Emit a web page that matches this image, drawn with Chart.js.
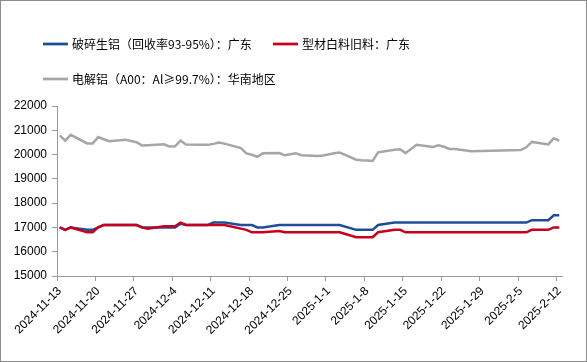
<!DOCTYPE html>
<html>
<head>
<meta charset="utf-8">
<script src="https://cdn.jsdelivr.net/npm/chart.js@4.4.1/dist/chart.umd.min.js"></script>
<style>
html, body { margin: 0; padding: 0; background: #fff; }
#wrap { width: 587px; height: 362px; position: relative; }
</style>
</head>
<body>
<div id="wrap"><canvas id="myChart"></canvas></div>
<script>
// price days (weekdays, no data over New Year / Spring Festival)
var tradeDays = [
  "2024-11-13", "2024-11-14", "2024-11-15", "2024-11-18", "2024-11-19", "2024-11-20", "2024-11-21", "2024-11-22",
  "2024-11-25", "2024-11-26", "2024-11-27", "2024-11-28", "2024-11-29",
  "2024-12-2", "2024-12-3", "2024-12-4", "2024-12-5", "2024-12-6", "2024-12-9", "2024-12-10", "2024-12-11",
  "2024-12-12", "2024-12-13", "2024-12-16", "2024-12-17", "2024-12-18", "2024-12-19", "2024-12-20",
  "2024-12-23", "2024-12-24", "2024-12-25", "2024-12-26", "2024-12-27", "2024-12-30", "2024-12-31",
  "2025-1-2", "2025-1-3", "2025-1-6", "2025-1-7", "2025-1-8", "2025-1-9", "2025-1-10",
  "2025-1-13", "2025-1-14", "2025-1-15", "2025-1-16", "2025-1-17", "2025-1-20", "2025-1-21",
  "2025-1-22", "2025-1-23", "2025-1-24", "2025-1-27",
  "2025-2-5", "2025-2-6", "2025-2-7", "2025-2-10", "2025-2-11", "2025-2-12"
];

// 破碎生铝（回收率93-95%）：广东
var scrapAl = [
  17000, 16900, 17000, 16900, 16900, 17000, 17100, 17100, 17100, 17100, 17100, 17000, 17000,
  17000, 17000, 17000, 17150, 17100, 17100, 17100, 17200, 17200, 17200, 17100, 17100, 17100, 17000, 17000,
  17100, 17100, 17100, 17100, 17100, 17100, 17100,
  17100, 17100, 16900, 16900, 16900, 16900, 17100, 17200, 17200, 17200, 17200, 17200, 17200, 17200,
  17200, 17200, 17200, 17200,
  17200, 17200, 17300, 17300, 17500, 17500
];

// 型材白料旧料：广东
var profileAl = [
  17000, 16900, 17000, 16800, 16800, 17000, 17100, 17100, 17100, 17100, 17100, 17000, 16950,
  17050, 17050, 17050, 17200, 17100, 17100, 17100, 17100, 17100, 17100, 16950, 16900, 16800, 16800, 16800,
  16850, 16800, 16800, 16800, 16800, 16800, 16800,
  16800, 16800, 16600, 16600, 16600, 16600, 16800, 16900, 16900, 16800, 16800, 16800, 16800, 16800,
  16800, 16800, 16800, 16800,
  16800, 16800, 16900, 16900, 17000, 17000
];

// 电解铝（A00：Al≥99.7%）：华南地区
var primaryAl = [
  20790, 20570, 20810, 20460, 20460, 20720, 20630, 20550, 20610, 20560, 20510, 20370, 20380,
  20420, 20330, 20340, 20570, 20410, 20400, 20400, 20440, 20500, 20450, 20270, 20050, 19990, 19910, 20050,
  20060, 19970, 20010, 20050, 19970, 19940, 19960,
  20050, 20080, 19790, 19770, 19760, 19740, 20090, 20200, 20220, 20060, 20230, 20400, 20310, 20380,
  20320, 20230, 20230, 20140,
  20190, 20300, 20520, 20420, 20670, 20570
];

var seriesNames = ["破碎生铝（回收率93-95%）：广东", "型材白料旧料：广东", "电解铝（A00：Al≥99.7%）：华南地区"];
var seriesColors = ["#1F4E99", "#C8001E", "#A6A6A6"];

var yMin = 15000, yMax = 22000, yStep = 1000;

// every calendar day on the axis, only price days carry a value
var dayLabels = [];
var d = new Date(2024, 10, 13);
var last = new Date(2025, 1, 12);
while (d <= last) {
  dayLabels.push(d.getFullYear() + "-" + (d.getMonth() + 1) + "-" + d.getDate());
  d.setDate(d.getDate() + 1);
}
function onDays(values) {
  return dayLabels.map(function(lbl) {
    var i = tradeDays.indexOf(lbl);
    return i < 0 ? null : values[i];
  });
}

var legendPlugin = {
  id: 'topLegend',
  afterDraw: function(chart) {
    var c = chart.ctx;
    var items = [[43, 44, 0], [273, 44, 1], [43, 79, 2]];
    c.save();
    c.font = '12px "Noto Sans CJK SC"';
    c.textBaseline = 'middle';
    items.forEach(function(it) {
      c.strokeStyle = seriesColors[it[2]];
      c.lineWidth = 2.75;
      c.beginPath();
      c.moveTo(it[0], it[1]);
      c.lineTo(it[0] + 25, it[1]);
      c.stroke();
      c.fillStyle = '#000';
      c.fillText(seriesNames[it[2]], it[0] + 29, it[1]);
    });
    c.strokeStyle = '#8C8C8C';
    c.lineWidth = 1;
    c.strokeRect(0.5, 0.5, 586, 361);
    c.restore();
  }
};

var ctx = document.getElementById("myChart").getContext("2d");
var mychart = new Chart(ctx, {
  type: "line",
  data: {
    labels: dayLabels,
    datasets: [{
      label: seriesNames[0],
      data: onDays(scrapAl),
      borderColor: seriesColors[0],
      order: 1
    }, {
      label: seriesNames[1],
      data: onDays(profileAl),
      borderColor: seriesColors[1],
      order: 0
    }, {
      label: seriesNames[2],
      data: onDays(primaryAl),
      borderColor: seriesColors[2],
      order: 2
    }]
  },
  options: {
    responsive: true,
    maintainAspectRatio: false,
    animation: false,
    spanGaps: true,
    elements: {
      line: { borderWidth: 2.5, tension: 0, fill: false },
      point: { radius: 0, hoverRadius: 0 }
    },
    layout: { padding: { top: 106, right: 25, bottom: 0, left: 0 } },
    plugins: {
      legend: { display: false },
      tooltip: { enabled: false }
    },
    scales: {
      x: {
        type: 'category',
        offset: true,
        grid: {
          offset: true,
          drawOnChartArea: false,
          drawTicks: true,
          tickLength: 5,
          color: function(c) { return c.index % 7 === 0 ? '#999' : 'rgba(0,0,0,0)'; }
        },
        border: { color: '#999' },
        ticks: {
          autoSkip: false,
          maxRotation: 45,
          minRotation: 45,
          color: '#000',
          font: { family: 'Liberation Sans, Arial', size: 12 },
          callback: function(v, i) { return i % 7 === 0 ? this.getLabelForValue(v) : ''; }
        },
        afterFit: function(s) { s.height = 86; }
      },
      y: {
        min: yMin,
        max: yMax,
        grid: { drawOnChartArea: false, tickLength: 5, color: '#999' },
        border: { color: '#999' },
        ticks: {
          stepSize: yStep,
          padding: 5,
          color: '#000',
          font: { family: 'Liberation Sans, Arial', size: 12 },
          callback: function(v) { return String(v); }
        },
        afterFit: function(s) { s.width = 57; }
      }
    }
  },
  plugins: [legendPlugin]
});
</script>
</body>
</html>
